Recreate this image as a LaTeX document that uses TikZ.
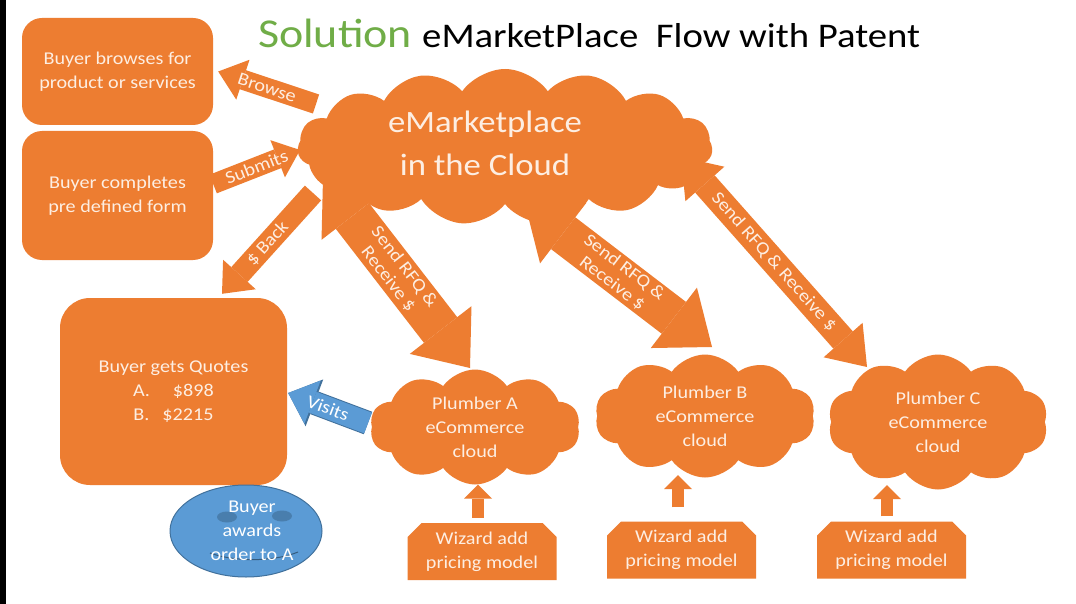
\documentclass[tikz,border=0pt]{standalone}
\usepackage{fontspec}
\setmainfont{Carlito}[FakeStretch=1.12]
\usetikzlibrary{shapes.symbols,shapes.misc,shapes.geometric,arrows.meta,backgrounds}

\definecolor{slideorange}{RGB}{237,125,49}
\definecolor{cream}{RGB}{253,238,226}
\definecolor{slideblue}{RGB}{91,155,213}
\definecolor{deepblue}{RGB}{65,113,156}
\definecolor{titlegreen}{RGB}{112,173,71}

\tikzset{
  buyerbox/.style={fill=slideorange, text=cream, rounded corners=#1, align=center,
    inner sep=0pt, font=\fontsize{18}{24}\selectfont},
  buyerbox/.default=20pt,
  bigcloud/.style={cloud, cloud puffs=#1, cloud puff arc=110, cloud ignores aspect,
    fill=slideorange, text=cream, align=center, inner sep=0pt},
  plumbertext/.style={font=\fontsize{18}{24}\selectfont},
  wizard/.style={chamfered rectangle, chamfered rectangle corners={north west,north east},
    chamfered rectangle xsep=7pt, chamfered rectangle ysep=7pt, fill=slideorange,
    text=cream, align=center, inner sep=0pt, minimum width=149pt, minimum height=57pt,
    font=\fontsize{18}{24}\selectfont},
  flowarrow/.style n args={3}{slideorange, line width=#1,
    -{Triangle[length=#2,width=#3,line width=0pt]}},
  twoway/.style n args={3}{slideorange, line width=#1,
    {Triangle[length=#2,width=#3,line width=0pt]}-{Triangle[length=#2,width=#3,line width=0pt]}},
  arrowtext/.style={text=cream, font=\fontsize{18}{20}\selectfont, align=center, inner sep=0pt},
}

\begin{document}
\begin{tikzpicture}[x=1pt,y=-1pt]
\useasboundingbox (0,0) rectangle (1076,604);

% Title
\node[anchor=base west, inner sep=0pt, text=titlegreen, font=\fontsize{41}{45}\selectfont] (sol) at (258,48) {Solution};
\node[anchor=base west, inner sep=0pt, font=\fontsize{34.6}{40}\selectfont] (ttl) at (422,48) {eMarketPlace\ \ Flow with Patent};

% Buyer side
\node[buyerbox, minimum width=191pt, minimum height=107pt] (browse) at (117.5,71.5) {Buyer browses for\\product or services};
\node[buyerbox, minimum width=191pt, minimum height=129pt] (form) at (117.5,195.5) {Buyer completes\\pre defined form};
\node[buyerbox=30pt, minimum width=227pt, minimum height=187pt] (quotes) at (173.5,391.5)
  {Buyer gets Quotes\\A.\hspace{23pt}\$898\\B.\hspace{13pt}\$2215};

% Smiley
\node[ellipse, fill=slideblue, draw=deepblue, line width=1pt, minimum width=152pt, minimum height=92pt] (award) at (246,531) {};
\fill[deepblue!70!slideblue] ([shift={(-19,-14)}]award.center) ellipse (10pt and 5.5pt);
\fill[deepblue!70!slideblue] ([shift={(36,-15)}]award.center) ellipse (10pt and 5.5pt);
\draw[deepblue!80!black, line width=1pt] ([shift={(-36,22)}]award.center)
  .. controls ([shift={(-12,31)}]award.center) and ([shift={(28,31)}]award.center) .. ([shift={(52,21)}]award.center);
\node[text=white, align=center, inner sep=0pt, font=\fontsize{18}{24}\selectfont] (awardtext) at ([xshift=6pt]award.center) {Buyer\\awards\\order to A};

% Clouds
\node[bigcloud=15, minimum width=415pt, minimum height=156pt] (mkt) at (505,147) {};
\node[text=cream, align=center, inner sep=0pt, font=\fontsize{31}{43}\selectfont] (mkttext) at (485,143) {eMarketplace\\in the Cloud};
\node[bigcloud=10, plumbertext, minimum width=210pt, minimum height=115pt] (plumA) at (475,427) {Plumber A\\eCommerce\\cloud};
\node[bigcloud=10, plumbertext, minimum width=220pt, minimum height=123pt] (plumB) at (705,416) {Plumber B\\eCommerce\\cloud};
\node[bigcloud=10, plumbertext, minimum width=220pt, minimum height=135pt] (plumC) at (938,422) {Plumber C\\eCommerce\\cloud};

% Wizards
\node[wizard] (wizA) at (482,551.5) {Wizard add\\pricing model};
\node[wizard] (wizB) at (681.5,550) {Wizard add\\pricing model};
\node[wizard] (wizC) at (891.5,550) {Wizard add\\pricing model};

\begin{scope}[on background layer]
  \fill[white] (0,0) rectangle (1076,604);
  \fill[black] (0,0) rectangle (6,604);

  \draw[flowarrow={20pt}{26pt}{42pt}] ([shift={(-189,-43)}]mkt.center) -- ([xshift=5pt]browse.east)
    node[midway, sloped, arrowtext] {Browse};
  \draw[flowarrow={20pt}{24pt}{40pt}] ([shift={(0,-11.5)}]form.east) -- ([shift={(-205,3)}]mkt.center)
    node[midway, sloped, arrowtext] {Submits};
  \draw[flowarrow={22pt}{26pt}{44pt}] ([shift={(-192,46)}]mkt.center) -- ([shift={(48.5,-4)}]quotes.north)
    node[midway, sloped, arrowtext] {\$ Back};

  \draw[twoway={42pt}{48pt}{78pt}] ([shift={(-182,31)}]mkt.center) -- ([shift={(-5,-59)}]plumA.center)
    node[midway, sloped, arrowtext] {Send RFQ \&\\Receive \$};
  \draw[twoway={40pt}{48pt}{76pt}] ([shift={(20,57)}]mkt.center) -- ([shift={(7,-69)}]plumB.center)
    node[midway, sloped, arrowtext] {Send RFQ \&\\Receive \$};
  \draw[twoway={26pt}{36pt}{52pt}] ([shift={(176,10)}]mkt.center) -- ([shift={(-71,-55)}]plumC.center)
    node[midway, sloped, arrowtext] {Send RFQ \& Receive \$};

  \draw[deepblue, line width=24pt, -{Triangle[length=28pt,width=50pt,line width=0pt]}]
    ([shift={(-107,-4)}]plumA.center) -- ([shift={(1,1.5)}]quotes.east);
  \draw[slideblue, line width=22pt, -{Triangle[length=26pt,width=46pt,line width=0pt]}]
    ([shift={(-107,-4)}]plumA.center) -- ([shift={(1,1.5)}]quotes.east)
    node[midway, sloped, arrowtext, text=white] {Visits};

  \draw[flowarrow={12pt}{14pt}{28pt}] ([shift={(-4,-5)}]wizA.north) -- ([xshift=3pt]plumA.south);
  \draw[flowarrow={12pt}{14pt}{28pt}] ([shift={(-3.5,-14)}]wizB.north) -- ([shift={(-27,-2.5)}]plumB.south);
  \draw[flowarrow={12pt}{14pt}{28pt}] ([shift={(-4.5,-5)}]wizC.north) -- ([shift={(-51,-4.5)}]plumC.south);
\end{scope}

\end{tikzpicture}
\end{document}
